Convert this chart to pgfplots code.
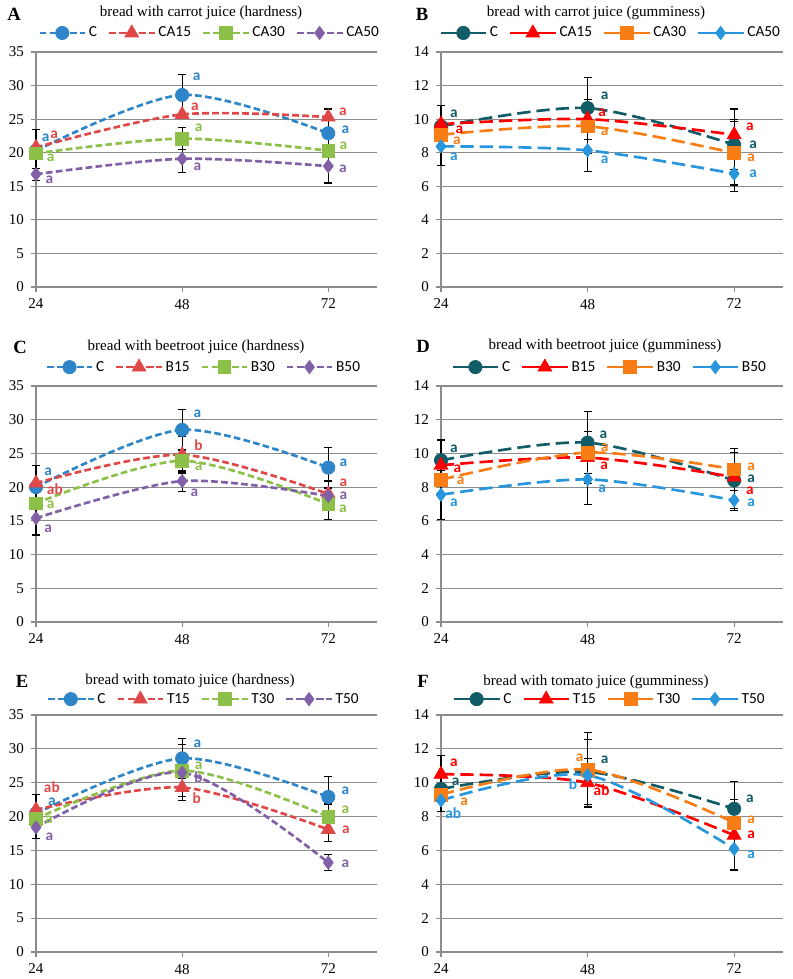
\documentclass[border=0pt]{standalone}
\usepackage{fontspec}
\setmainfont{Liberation Serif}
\newfontfamily\calibri{Carlito}
\usepackage{pgfplots}
\pgfplotsset{compat=1.18}
\definecolor{gridgray}{RGB}{140,140,140}
\definecolor{hC}{RGB}{46,134,201}
\definecolor{hR}{RGB}{224,72,72}
\definecolor{hG}{RGB}{140,192,72}
\definecolor{hP}{RGB}{130,96,168}
\definecolor{gC}{RGB}{17,92,102}
\definecolor{gR}{RGB}{255,0,0}
\definecolor{gO}{RGB}{247,125,20}
\definecolor{gB}{RGB}{40,150,220}
\newcommand{\lab}[4]{\node[font=\calibri\bfseries\fontsize{11.5}{13}\selectfont, text=#1, inner sep=0pt, text height=1.05ex, text depth=0pt] at (axis cs:#2,#3) {#4};}
\pgfplotsset{
 panel/.style={
   scale only axis,
   xmin=24, xmax=80, xtick={24,48,72},
   axis x line*=bottom, axis y line*=left,
   axis line style={gridgray, line width=0.9pt},
   ymajorgrids, grid style={gridgray, line width=0.9pt},
   tick style={gridgray, line width=0.9pt},
   tick align=outside, major tick length=4pt,
   /pgf/number format/assume math mode=true,
   ticklabel style={font=\fontsize{11.25}{13}\selectfont},
   yticklabel style={xshift=-1.5pt},
   xticklabel style={yshift=-1.5pt},
   clip=false,
   legend columns=4,
   legend style={draw=none, fill=none, font=\calibri\fontsize{11.5}{13}\selectfont, anchor=center, inner sep=0pt,
     /tikz/every even column/.append style={column sep=6pt}},
   legend cell align=left,
 },
 hard/.style={panel, ymin=0, ymax=35, ytick={0,5,...,35},
   every axis plot/.append style={smooth, line width=2pt, dash pattern=on 5pt off 2.5pt},
   legend image code/.code={\draw[mark repeat=2,mark phase=2,##1] plot coordinates {(0pt,0pt)(17pt,0pt)(34pt,0pt)};}},
 gum/.style={panel, ymin=0, ymax=14, ytick={0,2,...,14},
   every axis plot/.append style={smooth, line width=2pt, dash pattern=on 10pt off 4.5pt},
   legend image code/.code={\draw[mark repeat=2,mark phase=2,##1,solid] plot coordinates {(0pt,0pt)(17pt,0pt)(34pt,0pt)};}},
 errs/.style={forget plot, only marks, mark=none, error bars/.cd, y dir=both, y explicit,
   error bar style={black, solid, line width=0.9pt},
   error mark options={black, solid, rotate=90, mark size=3pt, line width=0.9pt}},
 sC/.style={#1, mark=*, mark size=5pt, mark options={solid, line width=0.5pt}},
 sT/.style={#1, mark=triangle*, mark size=6pt, mark options={solid, line width=0.5pt}},
 sS/.style={#1, mark=square*, mark size=4.8pt, mark options={solid, line width=0.5pt}},
 sD/.style={#1, mark=diamond*, mark size=5pt, mark options={solid, line width=0.5pt}},
}
\begin{document}
\begin{tikzpicture}
% ---------------- A ----------------
\begin{axis}[hard, at={(36*0.75pt,-287*0.75pt)}, anchor=south west, width=341*0.75pt, height=235*0.75pt,
  legend style={at={(axis description cs:0.51,1.081)}}, legend entries={C,CA15,CA30,CA50}]
\addplot[errs] table[row sep=\\, y error=e] {x y e\\ 24 20.3 3.2\\ 24 16.8 0.9\\ 48 28.6 3.0\\ 48 22.1 1.6\\ 48 19.1 2.0\\ 72 22.9 3.6\\ 72 18.0 2.5\\};
\addplot[sC=hC] table[row sep=\\] {x y\\ 24 20.3\\ 48 28.6\\ 72 22.9\\};
\addplot[sT=hR] table[row sep=\\] {x y\\ 24 20.8\\ 48 25.7\\ 72 25.3\\};
\addplot[sS=hG] table[row sep=\\] {x y\\ 24 19.9\\ 48 22.1\\ 72 20.3\\};
\addplot[sD=hP] table[row sep=\\] {x y\\ 24 16.8\\ 48 19.1\\ 72 18.0\\};
\lab{hC}{25.6}{22.1}{a}\lab{hR}{27.0}{22.6}{a}\lab{hG}{26.4}{19.2}{a}\lab{hP}{26.2}{15.9}{a}
\lab{hC}{50.4}{31.2}{a}\lab{hR}{50.1}{26.7}{a}\lab{hG}{50.7}{23.6}{a}\lab{hP}{50.5}{17.9}{a}
\lab{hR}{74.4}{26.0}{a}\lab{hC}{74.8}{23.3}{a}\lab{hG}{74.5}{20.9}{a}\lab{hP}{74.4}{17.5}{a}
\end{axis}
% ---------------- B ----------------
\begin{axis}[gum, at={(441*0.75pt,-287*0.75pt)}, anchor=south west, width=342*0.75pt, height=235*0.75pt,
  legend style={at={(axis description cs:0.497,1.081)}}, legend entries={C,CA15,CA30,CA50}]
\addplot[errs] table[row sep=\\, y error=e] {x y e\\ 24 9.6 1.2\\ 24 8.35 1.1\\ 48 10.65 1.85\\ 48 9.57 1.6\\ 48 8.15 1.25\\ 72 9.1 1.5\\ 72 8.5 1.5\\ 72 6.75 1.05\\ 72 7.98 1.9\\};
\addplot[sC=gC] table[row sep=\\] {x y\\ 24 9.57\\ 48 10.66\\ 72 8.48\\};
\addplot[sT=gR] table[row sep=\\] {x y\\ 24 9.7\\ 48 10.0\\ 72 9.07\\};
\addplot[sS=gO] table[row sep=\\] {x y\\ 24 9.07\\ 48 9.57\\ 72 7.98\\};
\addplot[sD=gB] table[row sep=\\] {x y\\ 24 8.38\\ 48 8.14\\ 72 6.75\\};
\lab{gC}{26.1}{10.3}{a}\lab{gR}{27.0}{9.31}{a}\lab{gO}{26.6}{8.7}{a}\lab{gB}{26.1}{7.7}{a}
\lab{gC}{50.8}{11.36}{a}\lab{gR}{50.4}{10.37}{a}\lab{gO}{50.8}{9.21}{a}\lab{gB}{50.8}{7.55}{a}
\lab{gR}{74.6}{9.51}{a}\lab{gC}{75.1}{8.44}{a}\lab{gO}{74.8}{7.64}{a}\lab{gB}{75.1}{6.69}{a}
\end{axis}
% ---------------- C ----------------
\begin{axis}[hard, at={(36*0.75pt,-622*0.75pt)}, anchor=south west, width=341*0.75pt, height=236*0.75pt,
  legend style={at={(axis description cs:0.493,1.08)}}, legend entries={C,B15,B30,B50}]
\addplot[errs] table[row sep=\\, y error=e] {x y e\\ 24 20.0 3.2\\ 24 15.4 2.5\\ 48 28.5 3.0\\ 48 24.8 2.7\\ 48 23.9 1.7\\ 48 20.9 1.5\\ 72 22.9 3.0\\ 72 18.7 2.2\\ 72 17.5 2.3\\};
\addplot[sC=hC] table[row sep=\\] {x y\\ 24 20.0\\ 48 28.5\\ 72 22.9\\};
\addplot[sT=hR] table[row sep=\\] {x y\\ 24 20.6\\ 48 24.8\\ 72 19.0\\};
\addplot[sS=hG] table[row sep=\\] {x y\\ 24 17.6\\ 48 23.9\\ 72 17.5\\};
\addplot[sD=hP] table[row sep=\\] {x y\\ 24 15.4\\ 48 20.9\\ 72 18.7\\};
\lab{hC}{26.0}{22.2}{a}\lab{hR}{27.1}{19.4}{ab}\lab{hG}{26.4}{17.3}{a}\lab{hP}{26.0}{13.8}{a}
\lab{hC}{50.5}{30.8}{a}\lab{hR}{50.7}{25.9}{b}\lab{hG}{50.7}{23.0}{a}\lab{hP}{50.0}{19.1}{a}
\lab{hC}{74.5}{23.5}{a}\lab{hR}{74.5}{20.5}{a}\lab{hP}{74.5}{18.7}{a}\lab{hG}{74.4}{16.7}{a}
\end{axis}
% ---------------- D ----------------
\begin{axis}[gum, at={(441*0.75pt,-622*0.75pt)}, anchor=south west, width=342*0.75pt, height=236*0.75pt,
  legend style={at={(axis description cs:0.494,1.08)}}, legend entries={C,B15,B30,B50}]
\addplot[errs] table[row sep=\\, y error=e] {x y e\\ 24 9.6 1.2\\ 24 7.55 1.45\\ 48 10.64 1.85\\ 48 9.75 1.55\\ 48 8.46 1.5\\ 72 9.06 1.25\\ 72 8.4 1.65\\ 72 7.22 0.6\\};
\addplot[sC=gC] table[row sep=\\] {x y\\ 24 9.59\\ 48 10.64\\ 72 8.4\\};
\addplot[sT=gR] table[row sep=\\] {x y\\ 24 9.3\\ 48 9.75\\ 72 8.6\\};
\addplot[sS=gO] table[row sep=\\] {x y\\ 24 8.44\\ 48 10.05\\ 72 9.06\\};
\addplot[sD=gB] table[row sep=\\] {x y\\ 24 7.55\\ 48 8.46\\ 72 7.22\\};
\lab{gC}{26.1}{10.24}{a}\lab{gR}{26.7}{9.06}{a}\lab{gO}{27.2}{8.36}{a}\lab{gB}{26.1}{7.06}{a}
\lab{gC}{50.6}{11.07}{a}\lab{gO}{50.8}{10.28}{a}\lab{gR}{50.7}{9.23}{a}\lab{gB}{50.4}{7.87}{a}
\lab{gO}{74.8}{9.15}{a}\lab{gC}{74.8}{8.45}{a}\lab{gR}{74.6}{7.76}{a}\lab{gB}{74.8}{7.06}{a}
\end{axis}
% ---------------- E ----------------
\begin{axis}[hard, at={(36*0.75pt,-952*0.75pt)}, anchor=south west, width=341*0.75pt, height=237*0.75pt,
  legend style={at={(axis description cs:0.493,1.067)}}, legend entries={C,T15,T30,T50}]
\addplot[errs] table[row sep=\\, y error=e] {x y e\\ 24 21.0 2.3\\ 24 18.4 1.6\\ 48 28.6 2.9\\ 48 26.8 3.8\\ 48 24.3 1.9\\ 72 22.9 3.0\\ 72 19.96 1.9\\ 72 18.1 1.8\\ 72 13.2 1.2\\};
\addplot[sC=hC] table[row sep=\\] {x y\\ 24 20.45\\ 48 28.6\\ 72 22.9\\};
\addplot[sT=hR] table[row sep=\\] {x y\\ 24 21.0\\ 48 24.3\\ 72 18.1\\};
\addplot[sS=hG] table[row sep=\\] {x y\\ 24 19.7\\ 48 26.8\\ 72 19.96\\};
\addplot[sD=hP] table[row sep=\\] {x y\\ 24 18.4\\ 48 26.5\\ 72 13.2\\};
\lab{hR}{26.6}{24.1}{ab}\lab{hC}{26.6}{22.1}{a}\lab{hG}{26.1}{19.4}{a}\lab{hP}{26.2}{16.9}{a}
\lab{hC}{50.5}{30.7}{a}\lab{hG}{50.7}{27.4}{a}\lab{hP}{50.7}{25.5}{b}\lab{hR}{50.4}{22.4}{b}
\lab{hC}{74.8}{23.8}{a}\lab{hG}{74.8}{21.0}{a}\lab{hR}{74.9}{18.0}{a}\lab{hP}{74.8}{13.0}{a}
\end{axis}
% ---------------- F ----------------
\begin{axis}[gum, at={(441*0.75pt,-952*0.75pt)}, anchor=south west, width=342*0.75pt, height=237*0.75pt,
  legend style={at={(axis description cs:0.494,1.067)}}, legend entries={C,T15,T30,T50}]
\addplot[errs] table[row sep=\\, y error=e] {x y e\\ 24 10.5 1.1\\ 24 8.96 0.65\\ 48 10.78 2.2\\ 48 10.64 1.92\\ 48 10.0 1.43\\ 72 8.46 1.6\\ 72 6.9 2.1\\ 72 6.09 1.2\\};
\addplot[sC=gC] table[row sep=\\] {x y\\ 24 9.63\\ 48 10.64\\ 72 8.46\\};
\addplot[sT=gR] table[row sep=\\] {x y\\ 24 10.5\\ 48 10.0\\ 72 6.9\\};
\addplot[sS=gO] table[row sep=\\] {x y\\ 24 9.3\\ 48 10.78\\ 72 7.65\\};
\addplot[sD=gB] table[row sep=\\] {x y\\ 24 8.96\\ 48 10.44\\ 72 6.09\\};
\lab{gR}{26.1}{11.17}{a}\lab{gC}{26.4}{10.03}{a}\lab{gO}{27.8}{8.84}{a}\lab{gB}{26.0}{8.1}{ab}
\lab{gO}{46.7}{11.47}{a}\lab{gC}{50.8}{11.31}{a}\lab{gB}{45.6}{9.79}{b}\lab{gR}{50.3}{9.43}{ab}
\lab{gC}{74.6}{9.04}{a}\lab{gO}{74.8}{7.77}{a}\lab{gR}{74.8}{6.88}{a}\lab{gB}{74.8}{5.70}{a}
\end{axis}
% titles and panel letters
\begin{scope}[every node/.style={inner sep=0pt}]
\node[font=\fontsize{11.3}{13}\selectfont] at (201*0.75pt,-13*0.75pt) {bread with carrot juice (hardness)};
\node[font=\fontsize{11.3}{13}\selectfont] at (596*0.75pt,-13*0.75pt) {bread with carrot juice (gumminess)};
\node[font=\fontsize{11.3}{13}\selectfont] at (196*0.75pt,-347*0.75pt) {bread with beetroot juice (hardness)};
\node[font=\fontsize{11.3}{13}\selectfont] at (605*0.75pt,-346*0.75pt) {bread with beetroot juice (gumminess)};
\node[font=\fontsize{11.3}{13}\selectfont] at (190*0.75pt,-681*0.75pt) {bread with tomato juice (hardness)};
\node[font=\fontsize{11.3}{13}\selectfont] at (596*0.75pt,-682*0.75pt) {bread with tomato juice (gumminess)};
\node[font=\bfseries\fontsize{14}{16}\selectfont] at (14*0.75pt,-14*0.75pt) {A};
\node[font=\bfseries\fontsize{14}{16}\selectfont] at (422*0.75pt,-14*0.75pt) {B};
\node[font=\bfseries\fontsize{14}{16}\selectfont] at (20*0.75pt,-347*0.75pt) {C};
\node[font=\bfseries\fontsize{14}{16}\selectfont] at (423*0.75pt,-346*0.75pt) {D};
\node[font=\bfseries\fontsize{14}{16}\selectfont] at (22*0.75pt,-681*0.75pt) {E};
\node[font=\bfseries\fontsize{14}{16}\selectfont] at (423*0.75pt,-681*0.75pt) {F};
\end{scope}
\pgfresetboundingbox
\useasboundingbox (0,0) rectangle (594.75pt,-734.25pt);
\end{tikzpicture}
\end{document}
